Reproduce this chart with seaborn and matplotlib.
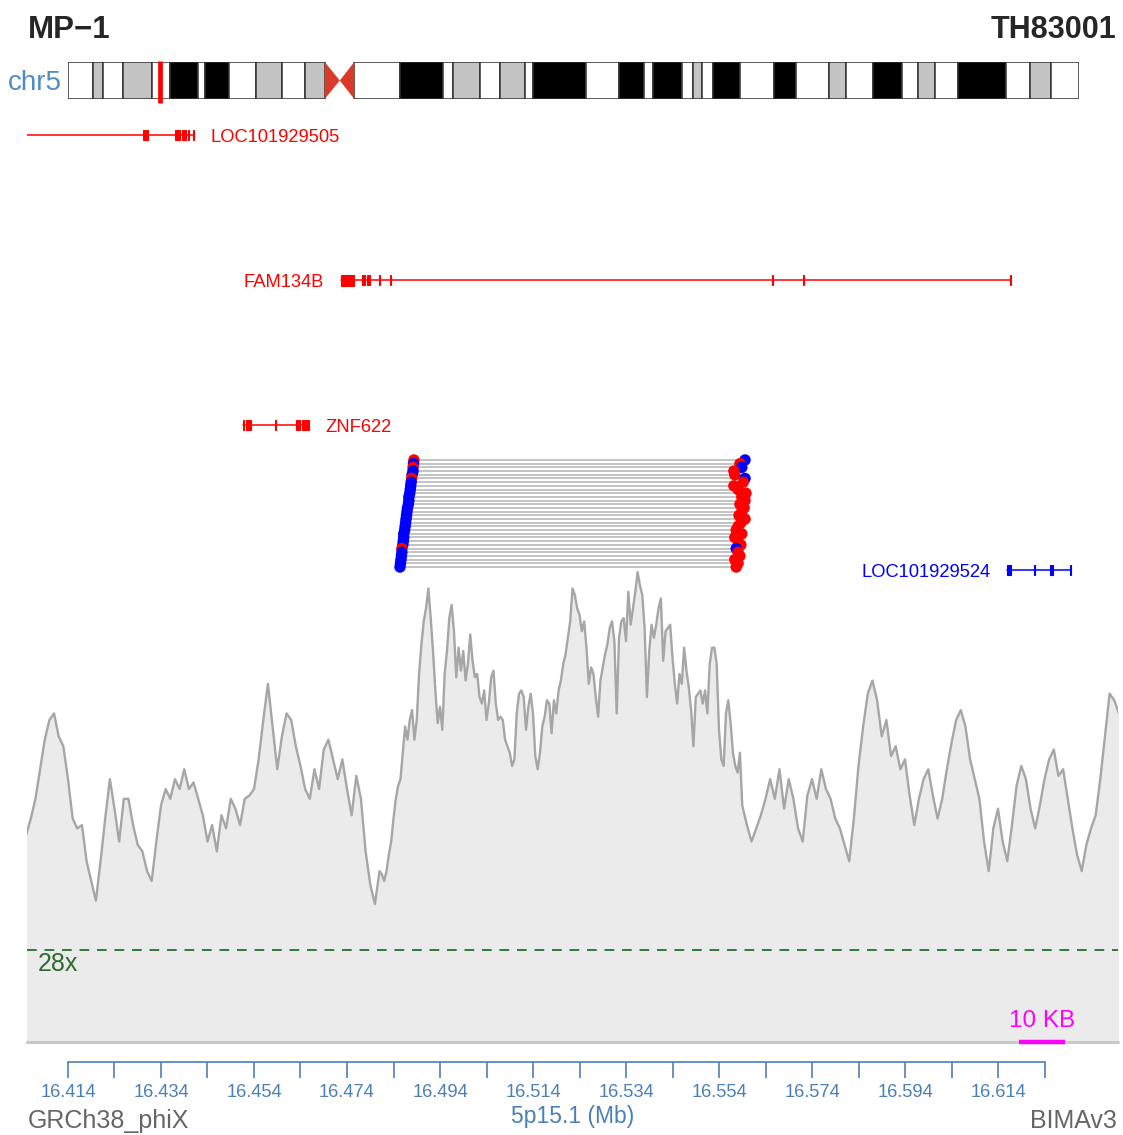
import numpy as np
import pandas as pd
import matplotlib
matplotlib.use("Agg")
import matplotlib.pyplot as plt
from matplotlib.patches import Rectangle, Polygon
from matplotlib.ticker import FixedLocator, FormatStrFormatter
import seaborn as sns

# ---------------- data ----------------
# chr5 cytobands (Mb)
band_start = [0.0, 4.4, 6.3, 9.8, 15.0, 18.4, 23.3, 24.6, 28.9, 33.8, 38.4, 42.5,
              51.4, 59.6, 67.4, 69.1, 74.0, 77.6, 82.1, 83.5, 93.0, 98.9, 103.4,
              105.1, 110.2, 112.2, 113.8, 115.9, 120.7, 126.8, 130.7, 136.6, 139.7,
              144.5, 149.8, 152.7, 155.7, 159.9, 168.5, 172.8, 176.5]
band_end = [4.4, 6.3, 9.8, 15.0, 18.4, 23.3, 24.6, 28.9, 33.8, 38.4, 42.5, 46.1,
            59.6, 67.4, 69.1, 74.0, 77.6, 82.1, 83.5, 93.0, 98.9, 103.4, 105.1,
            110.2, 112.2, 113.8, 115.9, 120.7, 126.8, 130.7, 136.6, 139.7, 144.5,
            149.8, 152.7, 155.7, 159.9, 168.5, 172.8, 176.5, 181.54]
band_stain = ["gneg", "gpos25", "gneg", "gpos50", "gneg", "gpos100", "gneg", "gpos100",
              "gneg", "gpos25", "gneg", "gpos50",
              "gneg", "gpos100", "gneg", "gpos50", "gneg", "gpos50", "gneg", "gpos100",
              "gneg", "gpos100", "gneg", "gpos100", "gneg", "gpos50", "gneg", "gpos100",
              "gneg", "gpos100", "gneg", "gpos25", "gneg", "gpos75", "gneg", "gpos50",
              "gneg", "gpos100", "gneg", "gpos25", "gneg"]
centromere = (46.1, 48.8, 51.4)
chrom_len = 181.54

# genes
gene_names = ["LOC101929505", "FAM134B", "ZNF622", "LOC101929524"]
gene_start = [16.3950, 16.4727, 16.4516, 16.6159]
gene_end = [16.4410, 16.6169, 16.4658, 16.6298]
gene_colors = ["#ff0000", "#ff0000", "#ff0000", "#0000ff"]
gene_label_side = ["right", "left", "right", "left"]
gene_exons = [
    [(16.4302, 16.4312), (16.4370, 16.4381), (16.4385, 16.4394), (16.4398, 16.4400), (16.4408, 16.4410)],
    [(16.4727, 16.4755), (16.4773, 16.4779), (16.4784, 16.4790), (16.4808, 16.4810),
     (16.4832, 16.4835), (16.5655, 16.5657), (16.5721, 16.5723), (16.6166, 16.6169)],
    [(16.4516, 16.4518), (16.4522, 16.4533), (16.4585, 16.4587), (16.4630, 16.4639), (16.4643, 16.4658)],
    [(16.6159, 16.6167), (16.6217, 16.6220), (16.6252, 16.6259), (16.6295, 16.6298)],
]
tall_exon = ("FAM134B", 0)

# discordant read pairs
read_left = [16.4884, 16.4883, 16.4882, 16.4882, 16.4880, 16.4879, 16.4878, 16.4877, 16.4876, 16.4875,
             16.4873, 16.4873, 16.4872, 16.4870, 16.4869, 16.4868, 16.4867, 16.4866, 16.4865, 16.4864,
             16.4862, 16.4862, 16.4861, 16.4860, 16.4858, 16.4858, 16.4857, 16.4856, 16.4855, 16.4854]
read_right = [16.5596, 16.5585, 16.5589, 16.5572, 16.5574, 16.5596, 16.5592, 16.5572, 16.5581, 16.5598,
              16.5589, 16.5596, 16.5585, 16.5594, 16.5589, 16.5583, 16.5596, 16.5587, 16.5581, 16.5577,
              16.5589, 16.5574, 16.5581, 16.5587, 16.5577, 16.5581, 16.5585, 16.5574, 16.5581, 16.5577]
read_orient = ["RF", "FR", "RF", "FR", "FR", "RF", "FR", "FR", "FR", "FR",
               "FR", "FR", "FR", "FR", "FR", "FR", "FR", "FR", "FR", "FR",
               "FR", "FR", "FR", "FR", "RF", "FR", "FR", "FR", "FR", "FR"]

# read depth: 1 kb bins over 16.405-16.480 Mb
depth_left = [63, 68, 74, 83, 92, 98, 100, 93, 90, 80,
              68, 65, 66, 55, 49, 43, 55, 68, 80, 71,
              61, 74, 74, 66, 60, 58, 52, 49, 61, 72,
              77, 74, 80, 77, 83, 77, 79, 74, 69, 61,
              66, 58, 69, 65, 74, 71, 66, 74, 75, 77,
              86, 98, 109, 96, 83, 93, 100, 98, 90, 84,
              77, 74, 83, 77, 89, 92, 86, 80, 86, 77,
              69, 81, 74, 58, 48, 42]
# 0.5 kb bins over 16.481-16.5585 Mb
depth_mid = [52, 51, 49, 52, 57, 61, 68, 74, 78, 80,
             88, 96, 92, 98, 101, 92, 98, 112, 121, 128,
             132, 138, 129, 119, 107, 97, 102, 95, 112, 119,
             129, 133, 125, 111, 120, 113, 119, 110, 115, 124,
             116, 111, 112, 105, 103, 107, 98, 103, 111, 113,
             103, 98, 99, 98, 92, 90, 88, 84, 86, 100,
             106, 107, 105, 95, 102, 106, 100, 87, 83, 88,
             96, 99, 104, 103, 94, 104, 100, 107, 110, 115,
             118, 123, 128, 138, 136, 132, 130, 125, 128, 120,
             109, 114, 112, 105, 99, 110, 114, 118, 121, 126,
             128, 122, 100, 123, 128, 129, 122, 137, 127, 132,
             137, 143, 139, 136, 126, 105, 119, 127, 123, 127,
             132, 135, 116, 125, 126, 127, 117, 109, 103, 112,
             109, 120, 113, 108, 101, 90, 105, 106, 107, 103,
             107, 100, 115, 120, 120, 115, 95, 86, 84, 100,
             104, 97, 88, 84, 82, 88]
# 1 kb bins over 16.559-16.640 Mb
depth_right = [72, 66, 61, 65, 69, 74,
               80, 74, 83, 71, 80, 74, 65, 61, 75, 80,
               74, 83, 77, 74, 68, 65, 60, 55, 68, 84,
               96, 106, 110, 104, 93, 98, 87, 90, 83, 86,
               75, 66, 74, 80, 83, 75, 68, 74, 83, 91,
               98, 101, 96, 86, 80, 74, 61, 52, 65, 71,
               61, 55, 66, 78, 84, 80, 71, 65, 72, 80,
               86, 89, 81, 83, 74, 65, 57, 52, 60, 65,
               69, 80, 93, 106, 104, 100]
mean_depth = 28
scale_bar = (16.6185, 16.6285)

view = (16.405183, 16.639806)
tick_major = [16.414, 16.434, 16.454, 16.474, 16.494, 16.514, 16.534, 16.554, 16.574, 16.594, 16.614]
tick_minor = [16.424, 16.444, 16.464, 16.484, 16.504, 16.524, 16.544, 16.564, 16.584, 16.604, 16.624]

# ---------------- style ----------------
sns.set_theme(style="white")
plt.rcParams["font.family"] = ["Liberation Sans", "DejaVu Sans"]

W, H = 1123, 1135
fig = plt.figure(figsize=(W / 100, H / 100), dpi=100)


def box(x0, y0, x1, y1):
    return [x0 / W, 1 - y1 / H, (x1 - x0) / W, (y1 - y0) / H]


AXIS_BLUE = "#4a80b8"

# titles
fig.text(28 / W, 1 - 38 / H, "MP\u22121", fontsize=22.5, fontweight="bold", ha="left", va="baseline")
fig.text(1116 / W, 1 - 38 / H, "TH83001", fontsize=22, fontweight="bold", ha="right", va="baseline")
fig.text(62 / W, 1 - 90 / H, "chr5", fontsize=20, color="#4f8bc9", ha="right", va="baseline")

# ---------------- ideogram ----------------
ax_i = fig.add_axes(box(68, 62, 1079, 99))
stain_color = {"gneg": "#ffffff", "gpos25": "#c4c4c4", "gpos50": "#c4c4c4",
               "gpos75": "#000000", "gpos100": "#000000"}
ax_i.bar(band_start, [1.0] * len(band_start), width=np.subtract(band_end, band_start), bottom=0,
         align="edge", color=[stain_color[s] for s in band_stain], edgecolor="#333333", linewidth=1.1)
c0, cm, c1 = centromere
ax_i.add_patch(Polygon([(c0, 0), (c0, 1), (cm, 0.5)], closed=True, fc="#d93b2b", ec="none"))
ax_i.add_patch(Polygon([(c1, 0), (c1, 1), (cm, 0.5)], closed=True, fc="#d93b2b", ec="none"))
ax_i.plot([np.mean(view)] * 2, [-0.1, 1.02], color="#ff0000", lw=3.4, clip_on=False,
          solid_capstyle="butt", zorder=5)
ax_i.set_xlim(0, chrom_len)
ax_i.set_ylim(0, 1)
ax_i.axis("off")

# ---------------- coverage ----------------
ax_c = fig.add_axes(box(27, 560, 1118, 1042))
cov_pos = np.concatenate([16.405 + 0.001 * np.arange(len(depth_left)),
                          16.481 + 0.0005 * np.arange(len(depth_mid)),
                          16.559 + 0.001 * np.arange(len(depth_right))])
cov = pd.DataFrame({"pos": cov_pos, "depth": depth_left + depth_mid + depth_right})
ax_c.fill_between(cov["pos"], cov["depth"], color="#ebebeb", lw=0, zorder=1)
sns.lineplot(data=cov, x="pos", y="depth", ax=ax_c, color="#a6a6a6", lw=1.7, zorder=2)
ax_c.axhline(mean_depth, color="#2e7d32", lw=1.4, ls=(0, (5, 4)), zorder=3)
ax_c.annotate(f"{mean_depth}x", xy=(view[0], mean_depth), xytext=(8, -15), textcoords="offset points",
              fontsize=18, color="#2e6b2e", ha="left", va="baseline")
ax_c.axhline(0, color="#c8c8c8", lw=2.2, clip_on=False, zorder=3)
ax_c.plot(scale_bar, [0, 0], color="#ff00ff", lw=3.2, clip_on=False, zorder=4,
          solid_capstyle="butt")
ax_c.annotate("10 KB", xy=(np.mean(scale_bar), 0), xytext=(0, 11), textcoords="offset points",
              fontsize=17.5, color="#ff00ff", ha="center", va="baseline")
ax_c.set_xlim(*view)
ax_c.set_ylim(0, (1042 - 560) / 3.286)
ax_c.axis("off")

# ---------------- genes and read pairs ----------------
ax_t = fig.add_axes(box(27, 110, 1118, 590))
ax_t.patch.set_alpha(0)
row_px = 145.0
for r, (name, gs, ge, col, side, exons) in enumerate(
        zip(gene_names, gene_start, gene_end, gene_colors, gene_label_side, gene_exons)):
    ax_t.plot([gs, ge], [r, r], color=col, lw=1.1, zorder=2)
    for j, (es, ee) in enumerate(exons):
        hh = (5.5 if (name, j) == tall_exon else 4.6) / row_px
        ax_t.add_patch(Rectangle((es, r - hh), ee - es, 2 * hh, fc=col, ec=col, lw=0.8, zorder=3))
    if side == "right":
        ax_t.annotate(name, xy=(ge, r), xytext=(12, -4.8), textcoords="offset points",
                      fontsize=13.2, color=col, ha="left", va="baseline")
    else:
        ax_t.annotate(name, xy=(gs, r), xytext=(-12, -4.8), textcoords="offset points",
                      fontsize=13.2, color=col, ha="right", va="baseline")

read_rows = np.linspace((460 - 135) / row_px, (567 - 135) / row_px, len(read_left))
for yl, xl, xr in zip(read_rows, read_left, read_right):
    ax_t.plot([xl, xr], [yl, yl], color="#b3b3b3", lw=1.1, zorder=4)

dots = pd.DataFrame({
    "pos": list(read_left) + list(read_right),
    "row": list(read_rows) + list(read_rows),
    "strand": [("-" if o == "FR" else "+") for o in read_orient]
              + [("+" if o == "FR" else "-") for o in read_orient],
})
sns.scatterplot(data=dots, x="pos", y="row", hue="strand", palette={"+": "#ff0000", "-": "#0000ff"},
                s=68, linewidth=0, legend=False, ax=ax_t, zorder=5)
ax_t.set_xlim(*view)
ax_t.set_ylim((590 - 135) / row_px, (110 - 135) / row_px)
ax_t.axis("off")

# ---------------- genomic axis ----------------
ax_x = fig.add_axes(box(27, 1061, 1118, 1062))
ax_x.patch.set_alpha(0)
for s in ["left", "right", "top"]:
    ax_x.spines[s].set_visible(False)
ax_x.spines["bottom"].set_color(AXIS_BLUE)
ax_x.spines["bottom"].set_linewidth(1.2)
ax_x.spines["bottom"].set_bounds(tick_major[0], tick_minor[-1])
ax_x.set_xlim(*view)
ax_x.set_yticks([])
ax_x.xaxis.set_major_locator(FixedLocator(tick_major))
ax_x.xaxis.set_minor_locator(FixedLocator(tick_minor))
ax_x.xaxis.set_major_formatter(FormatStrFormatter("%.3f"))
ax_x.tick_params(axis="x", which="both", direction="out", length=11.5, width=1.2,
                 color=AXIS_BLUE, bottom=True)
ax_x.tick_params(axis="x", which="major", labelsize=13.2, labelcolor=AXIS_BLUE, pad=4)
ax_x.set_xlabel("5p15.1 (Mb)", fontsize=16.5, color=AXIS_BLUE, labelpad=3)

fig.text(28 / W, 1 - 1128 / H, "GRCh38_phiX", fontsize=18, color="#666666", ha="left", va="baseline")
fig.text(1117 / W, 1 - 1128 / H, "BIMAv3", fontsize=18, color="#666666", ha="right", va="baseline")

fig.savefig("out.png", dpi=100)
